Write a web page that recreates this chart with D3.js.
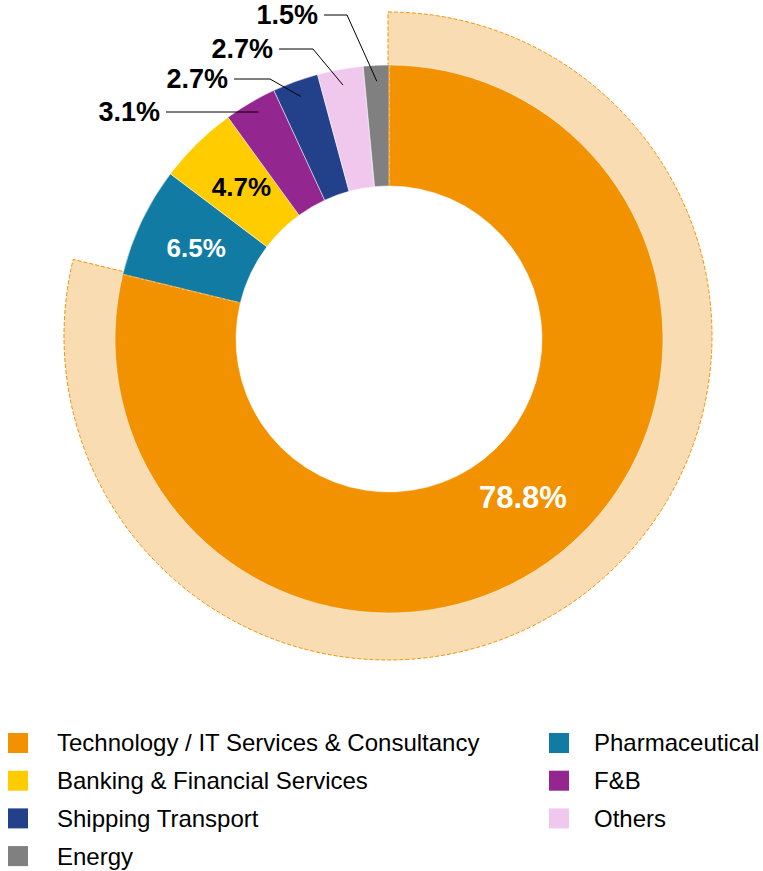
<!DOCTYPE html>
<html lang="en">
  <head>
    <meta charset="utf-8" />
    <title>Industry breakdown donut</title>
    <script src="https://cdn.jsdelivr.net/npm/d3@7"></script>
    <style>
      body { margin: 0; background: #fff; }
      svg { display: block; font-family: "Liberation Sans", Arial, sans-serif; }
    </style>
  </head>
  <body>
    <script>
      // data
      var categories = [
        "Technology / IT Services & Consultancy",
        "Pharmaceutical",
        "Banking & Financial Services",
        "F&B",
        "Shipping Transport",
        "Others",
        "Energy"
      ];
      var shares = [78.8, 6.5, 4.7, 3.1, 2.7, 2.7, 1.5];
      var labels = ["78.8%", "6.5%", "4.7%", "3.1%", "2.7%", "2.7%", "1.5%"];
      var colors = ["#f39200", "#117ba3", "#ffcc00", "#93268f", "#22418a", "#f0c8ee", "#808080"];

      var w = 763, h = 871;
      var cx = 389, cy = 339;
      var rIn = 153, rOut = 274, rHi = 324;

      var svg = d3.select("body").append("svg").attr("width", w).attr("height", h);
      var g = svg.append("g").attr("transform", "translate(" + cx + "," + cy + ")");

      var pie = d3.pie().sort(null).value(function (d) { return d; });
      var arcs = pie(shares);
      var arc = d3.arc().innerRadius(rIn).outerRadius(rOut);

      // highlight band behind the big slice (sits a few px higher)
      var big = arcs[0];
      g.append("path")
        .attr("transform", "translate(-1,-3)")
        .attr("d", d3.arc().innerRadius(rOut - 20).outerRadius(rHi)(big))
        .attr("fill", "#fadcb2")
        .attr("stroke", "#f39200")
        .attr("stroke-width", 1)
        .attr("stroke-dasharray", "4,2");

      g.selectAll("path.slice")
        .data(arcs)
        .enter()
        .append("path")
        .attr("class", "slice")
        .attr("d", arc)
        .attr("fill", function (d, i) { return colors[i]; })
        .attr("stroke", "#fff")
        .attr("stroke-width", 0.5);

      // dashed edges of the highlight over the slices
      [big.startAngle, big.endAngle].forEach(function (a) {
        g.append("path")
          .attr("d", d3.lineRadial()([[a, rIn], [a, rOut]]))
          .attr("fill", "none")
          .attr("stroke", "#f39200")
          .attr("stroke-width", 1)
          .attr("stroke-dasharray", "4,2");
      });

      // labels inside slices
      var inner = [
        { i: 0, fill: "#fff", size: 31, dx: 2, dy: -10 },
        { i: 1, fill: "#fff", size: 26, dx: 0, dy: 0 },
        { i: 2, fill: "#000", size: 26, dx: 2, dy: 0 }
      ];
      var midArc = d3.arc().innerRadius((rIn + rOut) / 2).outerRadius((rIn + rOut) / 2);
      inner.forEach(function (o) {
        var c = midArc.centroid(arcs[o.i]);
        g.append("text")
          .attr("x", c[0] + o.dx)
          .attr("y", c[1] + o.dy)
          .attr("dy", "0.35em")
          .attr("text-anchor", "middle")
          .attr("font-weight", "bold")
          .attr("font-size", o.size + "px")
          .attr("fill", o.fill)
          .text(labels[o.i]);
      });

      // labels outside with leader lines (page coords)
      var outer = [
        { i: 3, right: 160, y: 112, elbow: null },
        { i: 4, right: 228, y: 79, elbow: 270 },
        { i: 5, right: 273, y: 49, elbow: 313 },
        { i: 6, right: 318, y: 15, elbow: 347 }
      ];
      var pointArc = d3.arc().innerRadius(258).outerRadius(258);
      outer.forEach(function (o) {
        var p = pointArc.centroid(arcs[o.i]);
        var px = cx + p[0], py = cy + p[1];
        var pts = [[o.right + 6, o.y]];
        if (o.elbow !== null) pts.push([o.elbow, o.y]);
        else py = o.y;
        pts.push([px, py]);
        svg.append("path")
          .attr("d", d3.line()(pts))
          .attr("fill", "none")
          .attr("stroke", "#000")
          .attr("stroke-width", 1);
        svg.append("text")
          .attr("x", o.right)
          .attr("y", o.y)
          .attr("dy", "0.35em")
          .attr("text-anchor", "end")
          .attr("font-weight", "bold")
          .attr("font-size", "27px")
          .attr("fill", "#000")
          .text(labels[o.i]);
      });

      // legend, two columns row by row
      var boxX = [8, 549], textX = [57, 594], rowY = 743, rowGap = 37.7;
      var legend = svg.selectAll("g.leg")
        .data(categories)
        .enter()
        .append("g")
        .attr("class", "leg")
        .attr("transform", function (d, i) {
          return "translate(0," + (rowY + Math.floor(i / 2) * rowGap) + ")";
        });
      legend.append("rect")
        .attr("x", function (d, i) { return boxX[i % 2]; })
        .attr("y", -10)
        .attr("width", 20).attr("height", 20)
        .attr("fill", function (d, i) { return colors[i]; });
      legend.append("text")
        .attr("x", function (d, i) { return textX[i % 2]; })
        .attr("dy", "0.35em")
        .attr("font-size", "24px")
        .attr("fill", "#000")
        .text(function (d) { return d; });
    </script>
  </body>
</html>
